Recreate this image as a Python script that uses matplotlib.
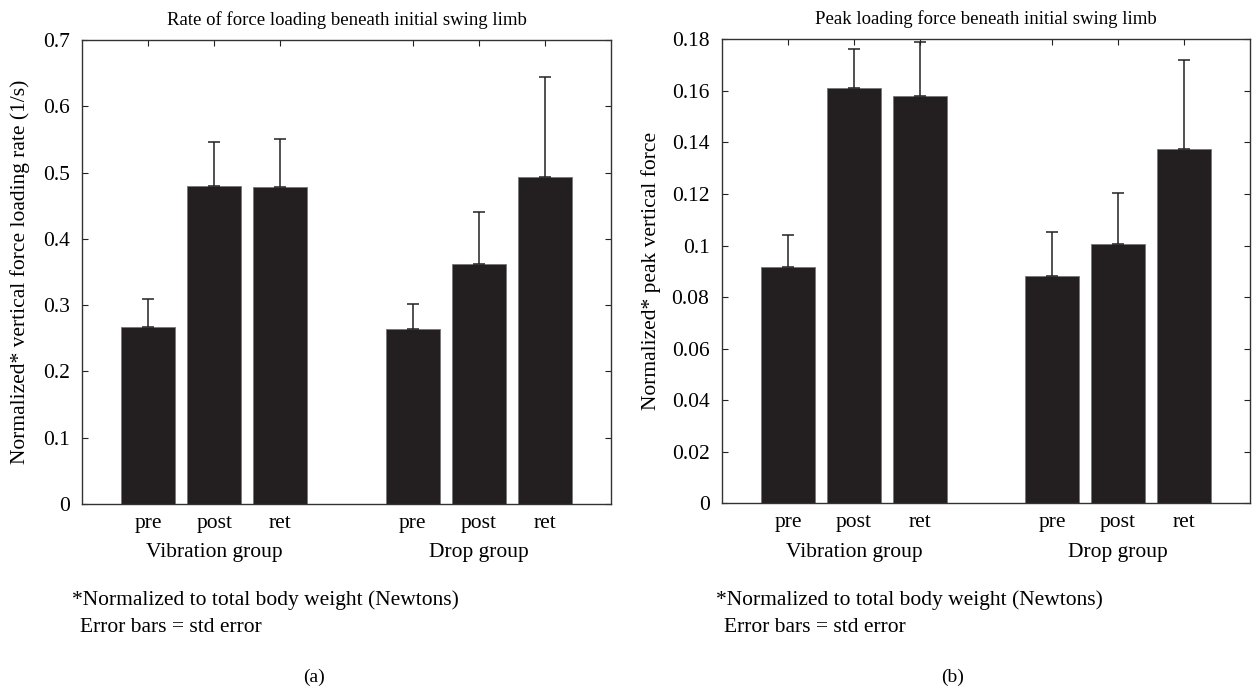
import matplotlib
matplotlib.use("Agg")
import matplotlib.pyplot as plt
from matplotlib.transforms import blended_transform_factory
import numpy as np

plt.rcParams['font.family'] = ['Liberation Serif', 'DejaVu Serif']

conditions = ["pre", "post", "ret", "pre", "post", "ret"]
groups = ["Vibration group", "Drop group"]
positions = [1, 2, 3, 5, 6, 7]
group_centers = [2, 6]

rate_means = [0.2665, 0.480, 0.4786, 0.2644, 0.3615, 0.4928]
rate_tops = [0.3088, 0.5455, 0.551, 0.3021, 0.441, 0.6445]

peak_means = [0.0917, 0.1612, 0.1581, 0.0883, 0.1007, 0.1375]
peak_tops = [0.104, 0.1764, 0.1789, 0.1053, 0.1204, 0.1721]

rate_ticks = [0, 0.1, 0.2, 0.3, 0.4, 0.5, 0.6, 0.7]
peak_ticks = [0, 0.02, 0.04, 0.06, 0.08, 0.1, 0.12, 0.14, 0.16, 0.18]

titles = ["Rate of force loading beneath initial swing limb",
          "Peak loading force beneath initial swing limb"]
ylabels = ["Normalized* vertical force loading rate (1/s)",
           "Normalized* peak vertical force"]
panel_labels = ["(a)", "(b)"]
note1 = "*Normalized to total body weight (Newtons)"
note2 = "Error bars = std error"

W, H = 1252, 689
fig = plt.figure(figsize=(W / 100, H / 100), dpi=100)

boxes = [(82, 40, 611, 504), (722, 39.3, 1250, 503.3)]
datasets = [(rate_means, rate_tops, rate_ticks), (peak_means, peak_tops, peak_ticks)]
ylabel_x = [20, 651]
note_x = [72, 716]

bar_color = "#231f20"
fs = 15.5

for i, (box, (means, tops, ticks)) in enumerate(zip(boxes, datasets)):
    x0, y0, x1, y1 = box
    ax = fig.add_axes([x0 / W, 1 - y1 / H, (x1 - x0) / W, (y1 - y0) / H])
    errs = [t - m for m, t in zip(means, tops)]
    ax.bar(positions, means, width=0.82, color=bar_color, edgecolor="#777777",
           linewidth=0.6, zorder=2)
    ax.errorbar(positions, means, yerr=[np.zeros(len(errs)), errs], fmt="none",
                ecolor="#222222", elinewidth=1.1, capsize=4, capthick=1.1, zorder=3)
    ax.set_xlim(0, 8)
    ax.set_ylim(ticks[0], ticks[-1])
    ax.set_yticks(ticks)
    ax.set_yticklabels(["%g" % t for t in ticks], fontsize=fs)
    ax.set_xticks(positions)
    ax.set_xticklabels(conditions, fontsize=fs)
    ax.tick_params(direction="in", top=True, right=True, length=4, width=0.8,
                   colors="#222222", labelcolor="black")
    ax.tick_params(axis="x", pad=7)
    ax.tick_params(axis="y", pad=9)
    for s in ax.spines.values():
        s.set_linewidth(1.0)
        s.set_color("#333333")
    ax.set_title(titles[i], fontsize=13.5, pad=11)
    fig.text(ylabel_x[i] / W, 1 - ((y0 + y1) / 2) / H, ylabels[i], rotation=90,
             ha="center", va="center", fontsize=fs)
    trans = blended_transform_factory(ax.transData, fig.transFigure)
    for g, c in zip(groups, group_centers):
        ax.text(c, 1 - 553 / H, g, transform=trans, ha="center", va="center",
                fontsize=fs)
    fig.text(note_x[i] / W, 1 - 600 / H, note1, ha="left", va="center", fontsize=fs)
    fig.text((note_x[i] + 8) / W, 1 - 628 / H, note2, ha="left", va="center", fontsize=fs)
    fig.text(((x0 + x1) / 2 - 33) / W, 1 - 677 / H, panel_labels[i], ha="center",
             va="center", fontsize=14)

fig.savefig("out.png", dpi=100)
